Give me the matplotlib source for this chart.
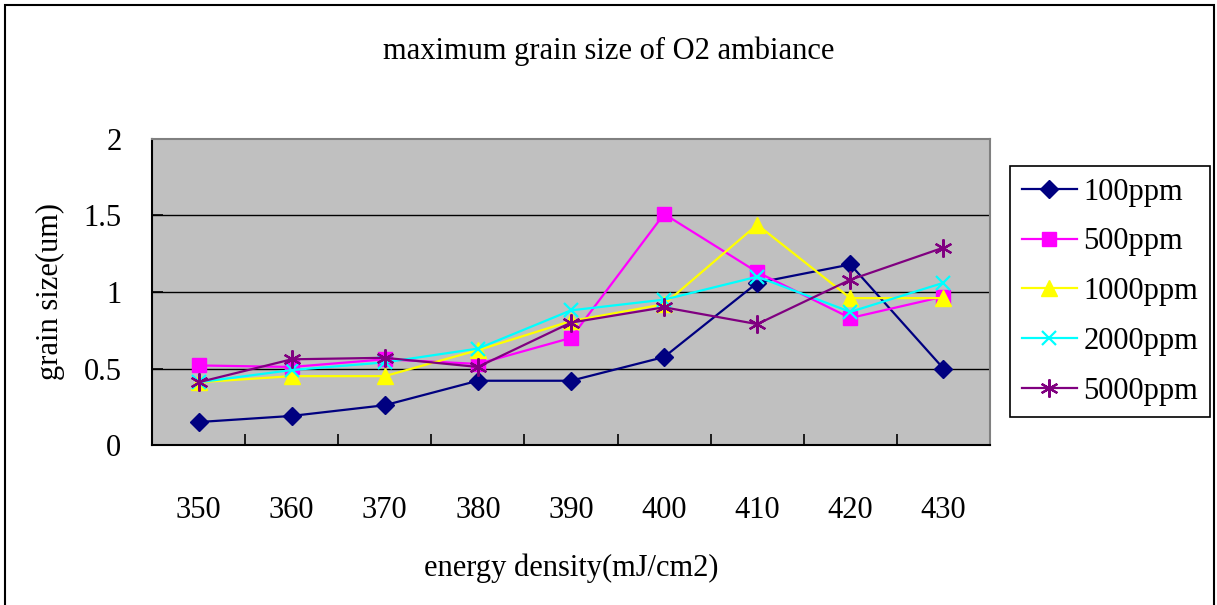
import matplotlib.pyplot as plt
import matplotlib.patches as patches
import numpy as np

plt.rcParams['font.family'] = ['Liberation Serif', 'DejaVu Serif']

energia = [350, 360, 370, 380, 390, 400, 410, 420, 430]
g100 = [0.15, 0.19, 0.26, 0.42, 0.42, 0.575, 1.06, 1.18, 0.50]
g500 = [0.52, 0.51, 0.56, 0.53, 0.70, 1.51, 1.13, 0.83, 0.97]
g1000 = [0.41, 0.45, 0.45, 0.62, 0.81, 0.92, 1.44, 0.96, 0.96]
g2000 = [0.41, 0.49, 0.54, 0.63, 0.88, 0.95, 1.10, 0.87, 1.06]
g5000 = [0.41, 0.56, 0.57, 0.51, 0.80, 0.90, 0.79, 1.08, 1.29]

series = [
    ('100ppm', g100, '#000080', 'D', 9, 1.0),
    ('500ppm', g500, '#FF00FF', 's', 9.5, 1.0),
    ('1000ppm', g1000, '#FFFF00', '^', 11, 1.0),
    ('2000ppm', g2000, '#00FFFF', 'x', 10, 1.6),
    ('5000ppm', g5000, '#800080', (6, 2, 0), 13, 1.6),
]

fs = 22

fig = plt.figure(figsize=(12.17, 6.05), dpi=100)
ax = fig.add_axes([152/1217, 1-445/605, (990-152)/1217, (445-139)/605])
ax.set_facecolor('#C0C0C0')

x = np.arange(len(energia))
for nombre, valores, color, marcador, tam, mew in series:
    ax.plot(x, valores, color=color, marker=marcador, markersize=tam,
            markeredgewidth=mew, markeredgecolor=color, lw=1.6, label=nombre)

ax.set_xlim(-0.5, len(energia) - 0.5)
ax.set_ylim(0, 2)
ax.set_yticks([0, 0.5, 1, 1.5, 2])
ax.set_yticklabels(['0', '0.5', '1', '1.5', '2'])
for v in [0.5, 1, 1.5]:
    ax.axhline(v, color='black', lw=1, zorder=0.5)

ax.set_xticks(x)
ax.set_xticklabels([str(e) for e in energia])
ax.set_xticks(np.arange(0.5, len(energia) - 1, 1), minor=True)
ax.tick_params(axis='x', which='major', length=0, pad=37, labelsize=fs)
ax.tick_params(axis='x', which='minor', direction='in', length=8, width=1.2)
ax.tick_params(axis='y', direction='in', length=8, width=1.2, pad=22, labelsize=fs)

for lado in ['left', 'bottom']:
    ax.spines[lado].set_color('black')
    ax.spines[lado].set_linewidth(1.5)
for lado in ['top', 'right']:
    ax.spines[lado].set_color('#808080')
    ax.spines[lado].set_linewidth(1.5)

ax.set_xlabel('energy density(mJ/cm2)', fontsize=fs, labelpad=20)
ax.set_ylabel('grain size(um)', fontsize=fs, labelpad=13)
fig.text(0.5, 1-51/605, 'maximum grain size of O2 ambiance', fontsize=fs,
         ha='center', va='center')

leg = ax.legend(loc='upper left', bbox_to_anchor=(1010/1217, 1-166/605),
                bbox_transform=fig.transFigure, fontsize=fs, frameon=True,
                fancybox=False, edgecolor='black', framealpha=1,
                handlelength=1.8, handletextpad=0.22, labelspacing=0.68,
                borderpad=0.38, borderaxespad=0)
leg.get_frame().set_linewidth(1.2)

borde = patches.Rectangle((5/1217, -0.01), (1214-5)/1217, 1-5/605+0.01,
                          transform=fig.transFigure, fill=False,
                          edgecolor='black', lw=1.5)
fig.patches.append(borde)

fig.savefig('out.png', dpi=100)
